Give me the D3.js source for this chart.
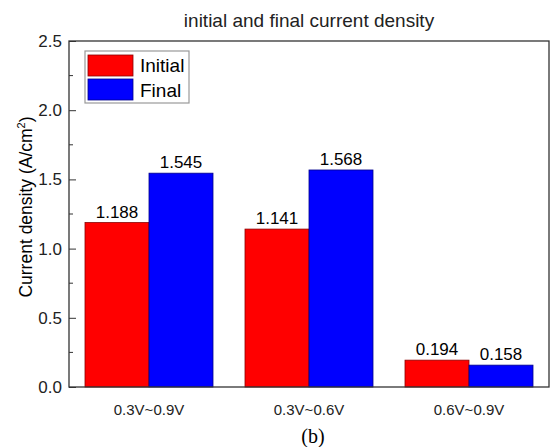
<!DOCTYPE html>
<html>
<head>
<meta charset="utf-8">
<script src="https://cdn.jsdelivr.net/npm/d3@7"></script>
<style>
  body { margin: 0; background: #fff; }
  text { font-family: "Liberation Sans", Arial, sans-serif; }
</style>
</head>
<body>
<script>
var categories = ["0.3V~0.9V", "0.3V~0.6V", "0.6V~0.9V"];
var seriesNames = ["Initial", "Final"];
var initialVals = [1.188, 1.141, 0.194];
var finalVals = [1.545, 1.568, 0.158];
var yTicks = [0, 0.5, 1.0, 1.5, 2.0, 2.5];
var colors = ["#ff0000", "#0000ff"];
var strokes = ["#8b0000", "#00008b"];

var margin = {top: 41, right: 2, bottom: 60, left: 69},
    width = 551 - margin.left - margin.right,
    height = 447 - margin.top - margin.bottom;

var svg = d3.select("body").append("svg")
    .attr("width", 551)
    .attr("height", 447);

var g = svg.append("g")
    .attr("transform", "translate(" + margin.left + "," + margin.top + ")");

var x0 = d3.scaleBand().domain(categories).range([0, width]).paddingInner(0.2).paddingOuter(0.1);
var x1 = d3.scaleBand().domain(seriesNames).range([0, x0.bandwidth()]);
var y = d3.scaleLinear().domain([0, 2.5]).range([height, 0]);

var rows = categories.map(function(c, i) {
    return {cat: c, vals: [initialVals[i], finalVals[i]]};
});

// bars
var grp = g.selectAll(".grp").data(rows).enter().append("g")
    .attr("transform", function(d) { return "translate(" + x0(d.cat) + ",0)"; });

grp.selectAll("rect").data(function(d) { return d.vals; }).enter().append("rect")
    .attr("x", function(d, i) { return x1(seriesNames[i]); })
    .attr("y", function(d) { return y(d); })
    .attr("width", x1.bandwidth())
    .attr("height", function(d) { return height - y(d); })
    .attr("fill", function(d, i) { return colors[i]; })
    .attr("stroke", function(d, i) { return strokes[i]; })
    .attr("stroke-width", 0.8);

grp.selectAll(".val").data(function(d) { return d.vals; }).enter().append("text")
    .attr("x", function(d, i) { return x1(seriesNames[i]) + x1.bandwidth() / 2; })
    .attr("y", function(d) { return y(d) - 5; })
    .attr("text-anchor", "middle")
    .style("font-size", "17px")
    .text(function(d) { return d.toFixed(3); });

// y axis with inward ticks
var yAxis = d3.axisLeft(y).tickValues(yTicks).tickSize(-7).tickPadding(7)
    .tickFormat(d3.format(".1f"));
var ya = g.append("g").call(yAxis);
ya.selectAll("text").style("font-size", "17px").attr("fill", "#222");
ya.select(".domain").remove();
ya.selectAll("line").attr("stroke", "#333");

// minor ticks
var minor = d3.range(0.25, 2.5, 0.5);
g.selectAll(".minor").data(minor).enter().append("line")
    .attr("x1", 0).attr("x2", 4)
    .attr("y1", function(d) { return y(d); })
    .attr("y2", function(d) { return y(d); })
    .attr("stroke", "#333");

// frame
g.append("rect")
    .attr("x", 0).attr("y", 0)
    .attr("width", width).attr("height", height)
    .attr("fill", "none")
    .attr("stroke", "#333")
    .attr("stroke-width", 1.3);

// x labels
var xa = g.append("g").attr("transform", "translate(0," + height + ")")
    .call(d3.axisBottom(x0).tickSize(0).tickPadding(17));
xa.select(".domain").remove();
xa.selectAll("text").style("font-size", "15px").attr("fill", "#222");

// y label
svg.append("text")
    .attr("transform", "translate(32,207) rotate(-90)")
    .attr("text-anchor", "middle")
    .style("font-size", "17.5px")
    .html("Current density (A/cm<tspan dy='-7' font-size='11px'>2</tspan><tspan dy='7'>)</tspan>");

// title
svg.append("text")
    .attr("x", margin.left + width / 2)
    .attr("y", 27)
    .attr("text-anchor", "middle")
    .style("font-size", "19px")
    .attr("fill", "#222")
    .text("initial and final current density");

// caption
svg.append("text")
    .attr("x", 313)
    .attr("y", 443)
    .attr("text-anchor", "middle")
    .style("font-family", "'Liberation Serif', 'Times New Roman', serif")
    .style("font-size", "20px")
    .text("(b)");

// legend
var lg = svg.append("g").attr("transform", "translate(85,51)");
lg.append("rect").attr("width", 104).attr("height", 52)
    .attr("fill", "#fff").attr("stroke", "#999").attr("stroke-width", 1.2);
seriesNames.forEach(function(s, i) {
    lg.append("rect").attr("x", 3).attr("y", 4 + i * 24).attr("width", 45).attr("height", 21)
        .attr("fill", colors[i]).attr("stroke", strokes[i]).attr("stroke-width", 0.8);
    lg.append("text").attr("x", 55).attr("y", 21 + i * 24.5)
        .style("font-size", "19px").text(s);
});
</script>
</body>
</html>
